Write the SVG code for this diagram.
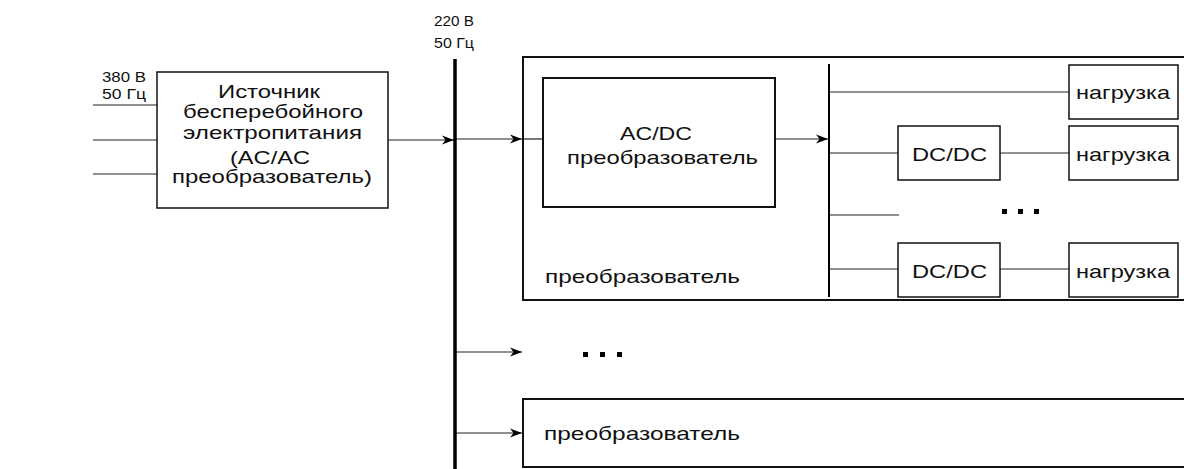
<svg xmlns="http://www.w3.org/2000/svg" width="1184" height="469" viewBox="0 0 1184 469">
<style>
text{font-family:"Liberation Sans",Arial,sans-serif;fill:#111}
.m{font-size:19px}
.s{font-size:15px}
.box{fill:#fff;stroke:#111;stroke-width:1.5}
.big{fill:none;stroke:#111;stroke-width:2}
.ln{stroke:#222;stroke-width:1.2;fill:none}
.bus{stroke:#000;stroke-width:3.5}
.ibus{stroke:#000;stroke-width:2}
.dot{fill:#000}
</style>
<defs>
<marker id="ah" markerUnits="userSpaceOnUse" markerWidth="13" markerHeight="10" refX="12" refY="5" orient="auto">
<path d="M0,0.5 L12,5 L0,9.5 L3.5,5 Z" fill="#000"/>
</marker>
</defs>

<g id="connectors">
<line class="ln" x1="93" y1="105" x2="157" y2="105"/>
<line class="ln" x1="93" y1="140" x2="157" y2="140"/>
<line class="ln" x1="93" y1="174" x2="157" y2="174"/>
<line class="ln" x1="388" y1="140" x2="454" y2="140" marker-end="url(#ah)"/>
<line class="ln" x1="456" y1="139" x2="522" y2="139" marker-end="url(#ah)"/>
<line class="ln" x1="523" y1="139" x2="543" y2="139"/>
<line class="ln" x1="775" y1="139" x2="828" y2="139" marker-end="url(#ah)"/>
<line class="ln" x1="829" y1="92" x2="1069" y2="92"/>
<line class="ln" x1="829" y1="153" x2="898" y2="153"/>
<line class="ln" x1="1000" y1="153" x2="1069" y2="153"/>
<line class="ln" x1="829" y1="215" x2="899" y2="215"/>
<line class="ln" x1="829" y1="269" x2="898" y2="269"/>
<line class="ln" x1="1000" y1="269" x2="1069" y2="269"/>
<line class="ln" x1="456" y1="352" x2="522" y2="352" marker-end="url(#ah)"/>
<line class="ln" x1="456" y1="433" x2="522" y2="433" marker-end="url(#ah)"/>
</g>

<g id="bus220">
<line class="bus" x1="455" y1="59" x2="455" y2="469"/>
<text class="s" x="434" y="26" textLength="40" lengthAdjust="spacingAndGlyphs">220 В</text>
<text class="s" x="434" y="48" textLength="40" lengthAdjust="spacingAndGlyphs">50 Гц</text>
</g>

<g id="input380">
<text class="s" x="102" y="82" textLength="44" lengthAdjust="spacingAndGlyphs">380 В</text>
<text class="s" x="102" y="99" textLength="44" lengthAdjust="spacingAndGlyphs">50 Гц</text>
</g>

<g id="ups">
<rect class="box" x="157" y="72" width="231" height="136"/>
<text class="m" x="218" y="98" textLength="102" lengthAdjust="spacingAndGlyphs">Источник</text>
<text class="m" x="183" y="118" textLength="180" lengthAdjust="spacingAndGlyphs">бесперебойного</text>
<text class="m" x="183" y="139" textLength="179" lengthAdjust="spacingAndGlyphs">электропитания</text>
<text class="m" x="230" y="164" textLength="80" lengthAdjust="spacingAndGlyphs">(AC/AC</text>
<text class="m" x="172" y="183" textLength="200" lengthAdjust="spacingAndGlyphs">преобразователь)</text>
</g>

<g id="converter1">
<rect class="big" x="523" y="57" width="680" height="243"/>
<text class="m" x="545" y="283" textLength="195" lengthAdjust="spacingAndGlyphs">преобразователь</text>
</g>

<g id="acdc">
<rect class="big" x="543" y="78" width="232" height="129"/>
<text class="m" x="620" y="140" textLength="72" lengthAdjust="spacingAndGlyphs">AC/DC</text>
<text class="m" x="567" y="164" textLength="191" lengthAdjust="spacingAndGlyphs">преобразователь</text>
</g>

<g id="dcbus">
<line class="ibus" x1="829" y1="64" x2="829" y2="297"/>
</g>

<g id="load1">
<rect class="box" x="1069" y="65" width="109" height="54"/>
<text class="m" x="1076" y="99" textLength="94" lengthAdjust="spacingAndGlyphs">нагрузка</text>
</g>
<g id="dcdc1">
<rect class="box" x="898" y="126" width="102" height="54"/>
<text class="m" x="912" y="161" textLength="75" lengthAdjust="spacingAndGlyphs">DC/DC</text>
</g>
<g id="load2">
<rect class="box" x="1069" y="126" width="109" height="54"/>
<text class="m" x="1076" y="161" textLength="94" lengthAdjust="spacingAndGlyphs">нагрузка</text>
</g>
<g id="dots1">
<rect class="dot" x="1002" y="209" width="5" height="5"/>
<rect class="dot" x="1018" y="209" width="5" height="5"/>
<rect class="dot" x="1034" y="209" width="5" height="5"/>
</g>
<g id="dcdc2">
<rect class="box" x="898" y="243" width="102" height="54"/>
<text class="m" x="912" y="278" textLength="75" lengthAdjust="spacingAndGlyphs">DC/DC</text>
</g>
<g id="load3">
<rect class="box" x="1069" y="243" width="109" height="54"/>
<text class="m" x="1076" y="278" textLength="94" lengthAdjust="spacingAndGlyphs">нагрузка</text>
</g>

<g id="dots2">
<rect class="dot" x="583" y="352" width="5" height="5"/>
<rect class="dot" x="600" y="352" width="5" height="5"/>
<rect class="dot" x="617" y="352" width="5" height="5"/>
</g>

<g id="converterN">
<rect class="big" x="523" y="399" width="680" height="68"/>
<text class="m" x="544" y="440" textLength="196" lengthAdjust="spacingAndGlyphs">преобразователь</text>
</g>
</svg>
